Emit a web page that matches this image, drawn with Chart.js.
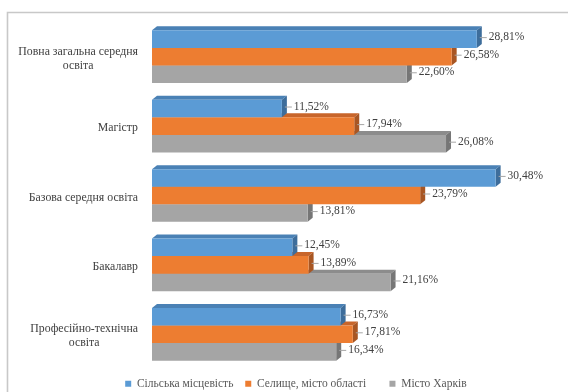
<!DOCTYPE html>
<html>
<head>
<meta charset="utf-8">
<script src="https://cdn.jsdelivr.net/npm/chart.js@4/dist/chart.umd.min.js"></script>
<style>
  html, body { margin: 0; padding: 0; background: #fff; overflow: hidden; }
  canvas { display: block; }
</style>
</head>
<body>
<canvas id="chart" width="568" height="392"></canvas>
<script>
// Education level of respondents by place of residence, %
const categories = [
  ['Повна загальна середня', 'освіта'],
  ['Магістр'],
  ['Базова середня освіта'],
  ['Бакалавр'],
  ['Професійно-технічна', 'освіта']
];
const seriesNames = ['Сільська місцевість', 'Селище, місто області', 'Місто Харків'];
const rural   = [28.81, 11.52, 30.48, 12.45, 16.73];
const towns   = [26.58, 17.94, 23.79, 13.89, 17.81];
const kharkiv = [22.60, 26.08, 13.81, 21.16, 16.34];

const frontColors = ['#5B9BD5', '#ED7D31', '#A5A5A5'];
const topColors   = ['#4A81B5', '#C8652A', '#8C8C8C'];
const sideColors  = ['#3D6D9B', '#A85623', '#767676'];
const DEPTH_X = 5, DEPTH_Y = 4;
const SERIF = '"Liberation Serif", "Times New Roman", serif';

const fmt = v => v.toFixed(2).replace('.', ',') + '%';

// White page with a light frame open to the right and bottom
const framePlugin = {
  id: 'frame',
  beforeDraw(chart) {
    const c = chart.ctx;
    c.save();
    c.fillStyle = '#ffffff';
    c.fillRect(0, 0, chart.width, chart.height);
    c.strokeStyle = '#C8C8C8';
    c.lineWidth = 1.6;
    c.beginPath();
    c.moveTo(7.5, chart.height + 5);
    c.lineTo(7.5, 12.5);
    c.lineTo(chart.width + 5, 12.5);
    c.stroke();
    c.restore();
  }
};

// Top and side faces that give each bar its depth
const depthPlugin = {
  id: 'depth',
  beforeDatasetDraw(chart, args) {
    const c = chart.ctx;
    const i = args.index;
    c.save();
    args.meta.data.forEach(bar => {
      const p = bar.getProps(['x', 'y', 'base', 'height'], true);
      const top = p.y - p.height / 2, bottom = p.y + p.height / 2;
      c.fillStyle = topColors[i];
      c.beginPath();
      c.moveTo(p.base, top);
      c.lineTo(p.x, top);
      c.lineTo(p.x + DEPTH_X, top - DEPTH_Y);
      c.lineTo(p.base + DEPTH_X, top - DEPTH_Y);
      c.closePath();
      c.fill();
      c.fillStyle = sideColors[i];
      c.beginPath();
      c.moveTo(p.x, top);
      c.lineTo(p.x + DEPTH_X, top - DEPTH_Y);
      c.lineTo(p.x + DEPTH_X, bottom - DEPTH_Y);
      c.lineTo(p.x, bottom);
      c.closePath();
      c.fill();
    });
    c.restore();
  }
};

// Value labels with short leader lines
const valueLabelPlugin = {
  id: 'valueLabels',
  afterDatasetsDraw(chart) {
    const c = chart.ctx;
    c.save();
    c.font = '11.5px ' + SERIF;
    c.textBaseline = 'middle';
    c.textAlign = 'left';
    chart.data.datasets.forEach((ds, i) => {
      const meta = chart.getDatasetMeta(i);
      meta.data.forEach((bar, j) => {
        const p = bar.getProps(['x', 'y'], true);
        const ly = p.y - 2;
        c.strokeStyle = '#A6A6A6';
        c.lineWidth = 1;
        c.beginPath();
        c.moveTo(p.x + DEPTH_X - 2, ly + 0.5);
        c.lineTo(p.x + DEPTH_X + 5, ly + 0.5);
        c.stroke();
        c.fillStyle = '#404040';
        c.fillText(fmt(ds.data[j]), p.x + DEPTH_X + 7, ly);
      });
    });
    c.restore();
  }
};

// Category names: right-aligned blocks, lines centred within each block
const categoryLabelPlugin = {
  id: 'categoryLabels',
  afterDraw(chart) {
    const c = chart.ctx;
    const scale = chart.scales.y;
    const right = scale.right - 14;
    const lineH = 14;
    c.save();
    c.font = '11.8px ' + SERIF;
    c.fillStyle = '#404040';
    c.textAlign = 'center';
    c.textBaseline = 'middle';
    categories.forEach((lines, i) => {
      const cy = scale.getPixelForTick(i) + 2;
      const blockW = Math.max(...lines.map(l => c.measureText(l).width));
      const cx = right - blockW / 2;
      const y0 = cy - (lines.length - 1) * lineH / 2;
      lines.forEach((l, k) => c.fillText(l, cx, y0 + k * lineH));
    });
    c.restore();
  }
};

new Chart(document.getElementById('chart'), {
  type: 'bar',
  data: {
    labels: categories,
    datasets: [
      { label: seriesNames[0], data: rural,   backgroundColor: frontColors[0] },
      { label: seriesNames[1], data: towns,   backgroundColor: frontColors[1] },
      { label: seriesNames[2], data: kharkiv, backgroundColor: frontColors[2] }
    ]
  },
  options: {
    indexAxis: 'y',
    responsive: false,
    animation: false,
    devicePixelRatio: 1,
    layout: { padding: { left: 7, right: -16.8, top: 22, bottom: -7.5 } },
    datasets: { bar: { categoryPercentage: 0.76, barPercentage: 1 } },
    scales: {
      x: { display: false, min: 0, max: 36.9 },
      y: {
        grid: { display: false },
        border: { display: false },
        ticks: { display: false },
        afterFit(s) { s.width = 145; }
      }
    },
    plugins: {
      legend: {
        position: 'bottom',
        labels: {
          boxWidth: 6,
          boxHeight: 6,
          padding: 9,
          color: '#595959',
          font: { family: SERIF, size: 11.5 },
          generateLabels(chart) {
            const items = Chart.defaults.plugins.legend.labels.generateLabels(chart);
            const gaps = [' ', '     ', ''];
            items.forEach((it, k) => {
              it.text = it.text + gaps[k];
              it.lineWidth = 0;
              it.fontColor = '#595959';
            });
            return items;
          }
        }
      },
      tooltip: { enabled: false }
    }
  },
  plugins: [framePlugin, depthPlugin, valueLabelPlugin, categoryLabelPlugin]
});
</script>
</body>
</html>
